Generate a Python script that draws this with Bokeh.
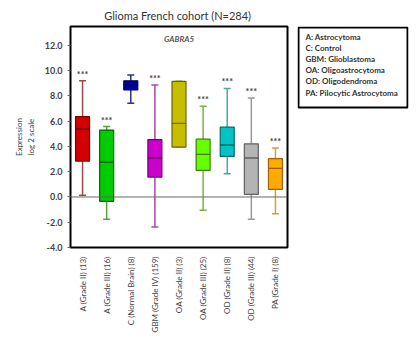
from bokeh.plotting import figure
from bokeh.layouts import row
from bokeh.models import ColumnDataSource, Span, Label, FixedTicker, NumeralTickFormatter, Range1d
from bokeh.core.properties import value
from bokeh.embed import file_html
from bokeh.resources import INLINE
from math import pi

categories = ["A (Grade II) (13)", "A (Grade III) (16)", "C (Normal Brain) (8)",
              "GBM (Grade IV) (159)", "OA (Grade II) (3)", "OA (Grade III) (25)",
              "OD (Grade II) (8)", "OD (Grade III) (44)", "PA (Grade I) (8)"]
whisker_low = [0.13, -1.76, 7.42, -2.37, 3.95, -1.05, 1.84, -1.76, -1.32]
q1 = [2.84, -0.34, 8.47, 1.58, 3.95, 2.10, 3.21, 0.21, 0.61]
median = [5.40, 2.76, 8.87, 3.10, 5.84, 3.37, 4.13, 3.10, 2.26]
q3 = [6.37, 5.30, 9.20, 4.55, 9.16, 4.58, 5.53, 4.21, 3.03]
whisker_high = [9.20, 5.58, 9.66, 8.87, 9.16, 7.18, 8.60, 7.84, 3.87]
stars = ["***", "***", "", "***", "", "***", "***", "***", "***"]
y_ticks = [-4, -2, 0, 2, 4, 6, 8, 10, 12]
legend_lines = ["A: Astrocytoma", "C: Control", "GBM: Glioblastoma",
                "OA: Oligoastrocytoma", "OD: Oligodendroma", "PA: Pilocytic Astrocytoma"]

fills = ["#D40000", "#00CC00", "#0000A8", "#CC00CC", "#C8BE00", "#66FF00", "#00C4C4", "#B4B4B4", "#FFAA00"]
whisk = ["#A04848", "#5AA040", "#303090", "#A848A8", "#A8A020", "#80B040", "#48A8A8", "#999999", "#D0A040"]
edges = ["#7A0000", "#006000", "#000050", "#700070", "#6A6400", "#3C8000", "#006868", "#606060", "#A06000"]

src = ColumnDataSource(dict(x=categories, lo=whisker_low, q1=q1, med=median, q3=q3,
                            hi=whisker_high, stars=stars, fill=fills, wc=whisk, ec=edges))

FONT = "Lato"
TOP, BOTTOM = 26, 91
p = figure(x_range=categories, y_range=Range1d(-4, 13.5), width=289, height=338,
           output_backend="svg", toolbar_location=None,
           title="Glioma French cohort  (N=284)",
           min_border_left=70, min_border_right=2, min_border_top=TOP, min_border_bottom=BOTTOM)
p.title.align = "center"
p.title.text_font = FONT
p.title.text_font_size = "11px"
p.title.text_font_style = "normal"
p.title.text_color = "#333333"
p.title.standoff = 9

p.grid.visible = False
p.outline_line_color = "black"
p.outline_line_width = 2
p.background_fill_color = "white"
p.border_fill_color = "white"

p.add_layout(Span(location=0, dimension="width", line_color="#666666", line_width=1))

p.segment(x0="x", y0="lo", x1="x", y1="q1", line_color="wc", line_width=1.5, source=src)
p.segment(x0="x", y0="q3", x1="x", y1="hi", line_color="wc", line_width=1.5, source=src)
p.scatter(x="x", y="lo", marker="dash", size=7, line_color="wc", line_width=1.5, source=src)
p.scatter(x="x", y="hi", marker="dash", size=7, line_color="wc", line_width=1.5, source=src)
p.vbar(x="x", bottom="q1", top="med", width=0.58, fill_color="fill", line_color="ec",
       line_width=1.2, source=src)
p.vbar(x="x", bottom="med", top="q3", width=0.58, fill_color="fill", line_color="ec",
       line_width=1.2, source=src)
p.text(x="x", y="hi", text="stars", text_font=value(FONT), text_font_size="9px",
       text_font_style="bold", text_color="#444444", text_align="center",
       text_baseline="bottom", y_offset=-1, source=src)

p.add_layout(Label(x=4.5, y=12.5, text="GABRA5", text_font=FONT, text_font_size="8px",
                   text_font_style="bold italic", text_color="#555555",
                   text_align="center", text_baseline="middle"))

p.yaxis.ticker = FixedTicker(ticks=y_ticks)
p.yaxis.formatter = NumeralTickFormatter(format="0.0")
p.yaxis.major_label_text_font = FONT
p.yaxis.major_label_text_font_size = "9px"
p.yaxis.major_label_text_font_style = "bold"
p.yaxis.major_label_text_color = "#444444"
p.yaxis.axis_line_color = None
p.yaxis.major_tick_line_color = "#666666"
p.yaxis.major_tick_out = 3
p.yaxis.major_tick_in = 0
p.yaxis.minor_tick_line_color = None
p.yaxis.axis_label = "Expression\nlog 2 scale"
p.yaxis.axis_label_text_font = FONT
p.yaxis.axis_label_text_font_size = "8px"
p.yaxis.axis_label_text_font_style = "normal"
p.yaxis.axis_label_text_color = "#444444"
p.yaxis.axis_label_standoff = 6

p.xaxis.major_label_orientation = pi / 2
p.xaxis.major_label_text_font = FONT
p.xaxis.major_label_text_font_size = "8px"
p.xaxis.major_label_text_color = "#444444"
p.xaxis.axis_line_color = None
p.xaxis.major_tick_line_color = None
p.xaxis.minor_tick_line_color = None
p.xaxis.major_label_standoff = 3

# legend panel (frame spans the same height as the main frame, in pixel-like units)
n = len(legend_lines)
FH = 338 - TOP - BOTTOM
leg = ColumnDataSource(dict(x=[8.0] * n, y=[FH - 10 - 11.2 * i for i in range(n)], t=legend_lines))
q = figure(width=121, height=338, x_range=Range1d(0, 111), y_range=Range1d(0, FH),
           output_backend="svg", toolbar_location=None,
           min_border_left=8, min_border_right=2, min_border_top=TOP, min_border_bottom=BOTTOM)
q.axis.visible = False
q.grid.visible = False
q.outline_line_color = None
q.border_fill_color = "white"
q.quad(left=[1], right=[110], top=[FH - 1], bottom=[FH - 81], fill_color="white",
       line_color="black", line_width=2)
q.text(x="x", y="y", text="t", text_font=value(FONT), text_font_size="8px",
       text_font_style="bold", text_color="#333333", text_align="left",
       text_baseline="middle", source=leg)

layout = row(p, q, spacing=0)
open("out.html", "w").write(file_html(layout, INLINE))
